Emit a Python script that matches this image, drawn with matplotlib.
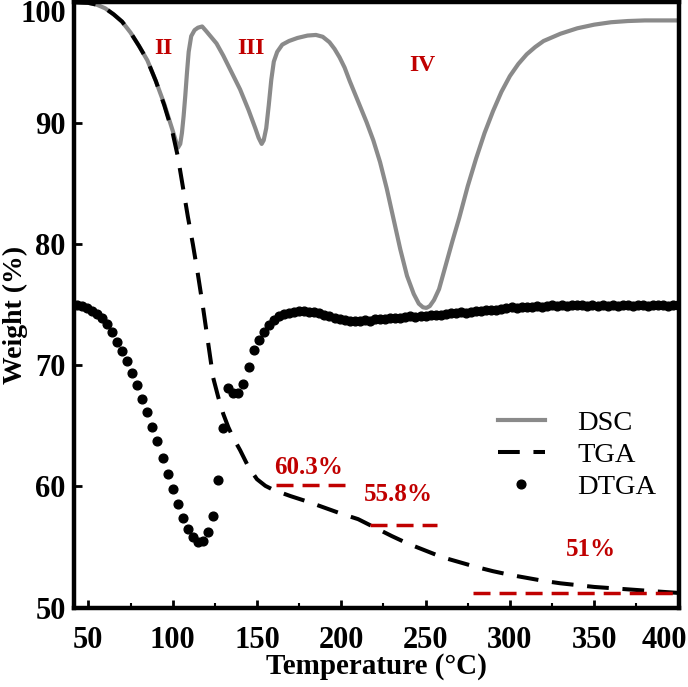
import matplotlib
matplotlib.use('Agg')
import matplotlib.pyplot as plt
import matplotlib.transforms as mtransforms

plt.rcParams['font.family'] = ['Liberation Serif', 'DejaVu Serif']

# DSC curve (gray line)
dsc_temp = [41.5, 50, 55, 60, 65, 70, 75, 80, 85, 90, 95, 100, 102, 103.2, 104.5, 105.5,
            106.5, 107.5, 108.5, 109.5, 111, 113, 115, 117.5, 120, 123, 126, 130, 135, 140,
            145, 149, 151, 152.8, 154, 155.5, 157, 158.5, 160, 162, 165, 169, 174, 180, 185,
            189, 193, 196, 199, 202, 205, 210, 215, 219, 223, 227, 231, 235, 239, 243, 246, 248.5,
            250.5, 252.5, 255, 258, 262, 266, 270, 275, 280, 285, 290, 295, 300, 305, 310,
            315, 320, 330, 340, 350, 360, 370, 380, 390, 400.6]
dsc_val = [100.0, 99.95, 99.8, 99.5, 99.0, 98.4, 97.5, 96.4, 95.2, 93.5, 91.6, 89.4, 88.5, 88.0, 88.3, 89.2,
           90.6, 92.3, 94.2, 95.9, 97.2, 97.7, 97.9, 98.0, 97.6, 97.1, 96.6, 95.6, 94.2, 92.8,
           91.1, 89.6, 88.8, 88.3, 88.6, 89.6, 91.5, 93.6, 95.1, 95.9, 96.5, 96.8, 97.05, 97.25, 97.3,
           97.15, 96.7, 96.15, 95.45, 94.6, 93.5, 91.8, 90.1, 88.6, 86.8, 84.6, 82.1, 79.6, 77.4, 75.9, 75.1, 74.8,
           74.75, 74.9, 75.4, 76.3, 78.3, 80.3, 82.2, 84.8, 87.1, 89.2, 91.0, 92.6, 93.9, 94.9, 95.7,
           96.3, 96.8, 97.4, 97.85, 98.15, 98.35, 98.45, 98.5, 98.5, 98.5]

# TGA curve (black dashed)
tga_temp = [41.5, 50, 55, 60, 65, 70, 75, 80, 85, 90, 95, 100, 103, 106, 109, 112, 115, 118,
            121, 124, 127, 130, 133, 136, 140, 145, 150, 155, 160, 165, 170, 180, 190, 200,
            210, 220, 230, 240, 250, 260, 270, 280, 290, 300, 310, 320, 330, 340, 350, 360,
            370, 380, 390, 400.6]
tga_val = [100.0, 99.95, 99.8, 99.5, 99.0, 98.4, 97.5, 96.4, 95.2, 93.5, 91.5, 89.2, 87.3, 84.8, 82.3, 80.0, 77.5, 74.8,
           71.9, 69.0, 67.4, 66.0, 64.9, 64.0, 63.0, 61.6, 60.6, 60.05, 59.7, 59.45, 59.2, 58.75, 58.25, 57.75,
           57.3, 56.6, 55.9, 55.25, 54.7, 54.15, 53.75, 53.35, 53.0, 52.7, 52.45, 52.2, 52.0, 51.85, 51.7, 51.6,
           51.5, 51.4, 51.3, 51.2]

# DTGA points (black dots)
dtga_temp = [43, 46, 49, 52, 55, 58, 61, 64, 67, 70, 73, 76, 79, 82, 85, 88, 91, 94, 97, 100,
             103, 106, 109, 112, 115, 118, 121, 124, 127, 130, 133, 136, 139, 142, 145, 148, 151, 154, 157, 160,
             163, 166, 169, 172, 175, 178, 181, 184, 187, 190, 193, 196, 199, 202, 205, 208, 211, 214, 217, 220,
             223, 226, 229, 232, 235, 238, 241, 244, 247, 250, 253, 256, 259, 262, 265, 268, 271, 274, 277, 280,
             283, 286, 289, 292, 295, 298, 301, 304, 307, 310, 313, 316, 319, 322, 325, 328, 331, 334, 337, 340,
             343, 346, 349, 352, 355, 358, 361, 364, 367, 370, 373, 376, 379, 382, 385, 388, 391, 394, 397, 400]
dtga_val = [75.0, 74.9, 74.75, 74.5, 74.25, 73.95, 73.45, 72.75, 71.95, 71.15, 70.35, 69.35, 68.35, 67.25, 66.15, 64.95, 63.75, 62.35, 61.05, 59.75,
            58.55, 57.4, 56.45, 55.85, 55.4, 55.5, 56.25, 57.6, 60.5, 64.8, 68.15, 67.7, 67.7, 68.5, 69.9, 71.25, 72.1, 72.8, 73.35, 73.75,
            74.05, 74.25, 74.35, 74.45, 74.5, 74.5, 74.45, 74.4, 74.3, 74.2, 74.05, 73.9, 73.8, 73.75, 73.7, 73.65, 73.7, 73.75, 73.7, 73.8,
            73.85, 73.8, 73.9, 73.95, 73.9, 74.0, 74.05, 74.0, 74.1, 74.1, 74.15, 74.2, 74.15, 74.25, 74.3, 74.3, 74.4, 74.35, 74.45, 74.5,
            74.5, 74.55, 74.6, 74.6, 74.7, 74.75, 74.8, 74.75, 74.85, 74.8, 74.85, 74.9, 74.85, 74.9, 74.95, 74.9, 74.95, 74.9, 74.95, 75.0,
            74.95, 74.9, 74.95, 74.9, 74.95, 74.9, 74.95, 74.9, 74.95, 74.95, 74.9, 74.95, 74.95, 74.9, 74.95, 74.95, 74.95, 74.9, 74.95, 74.95]

# residual mass markers (red dashed) and their labels
mass_levels = [60.1, 56.8, 51.2]
mass_start = [161.3, 217.1, 278.2]
mass_end = [202.2, 256.8, 400.6]
mass_labels = ['60.3%', '55.8%', '51%']
mass_label_x = [180.5, 233.9, 348.3]
mass_label_y = [61.55, 59.3, 54.8]

# stage labels
stage_labels = ['II', 'III', 'IV']
stage_x = [94.7, 146.5, 248.1]
stage_y = [96.2, 96.2, 94.8]

red = '#C00000'

fig = plt.figure(figsize=(6.88, 6.87), dpi=100)
ax = fig.add_axes([0.1076, 0.1157, 0.88, 0.881])

ax.plot(dsc_temp, dsc_val, color='#8a8a8a', lw=3.0, label='DSC', zorder=2)
ax.plot(tga_temp, tga_val, color='black', lw=2.9, dashes=(5.4, 3.4), label='TGA', zorder=3)
ax.plot(dtga_temp, dtga_val, 'o', color='black', ms=6.3, mec='black', label='DTGA', zorder=3)

for lev, x0, x1 in zip(mass_levels, mass_start, mass_end):
    ax.plot([x0, x1], [lev, lev], color=red, lw=2.5, dashes=(4.9, 2.6), zorder=4)
for txt, tx, ty in zip(mass_labels, mass_label_x, mass_label_y):
    ax.text(tx, ty, txt, color=red, fontsize=18, fontweight='bold', ha='center', va='center')
for txt, tx, ty in zip(stage_labels, stage_x, stage_y):
    ax.text(tx, ty, txt, color=red, fontsize=17, fontweight='bold', ha='center', va='center')

ax.set_xlim(41.5, 400.6)
ax.set_ylim(50, 100)
ax.set_xticks([50, 100, 150, 200, 250, 300, 350, 400])
ax.set_xticks([75, 125, 175, 225, 275, 325, 375], minor=True)
ax.set_yticks([50, 60, 70, 80, 90, 100])

ax.tick_params(axis='both', which='major', direction='in', length=6, width=2,
               labelsize=22, top=False, right=False)
ax.tick_params(axis='x', which='major', pad=13)
ax.tick_params(axis='y', which='major', pad=6)
ax.tick_params(axis='x', which='minor', direction='in', length=3.5, width=1.5, top=False)
for lab in ax.get_xticklabels() + ax.get_yticklabels():
    lab.set_fontweight('bold')
for s in ax.spines.values():
    s.set_linewidth(3.2)

# nudge the edge tick labels as in the original
xlabs = ax.get_xticklabels()
xlabs[-1].set_transform(xlabs[-1].get_transform() +
                        mtransforms.ScaledTranslation(-14 / 100, 0, fig.dpi_scale_trans))
ylabs = ax.get_yticklabels()
ylabs[-1].set_transform(ylabs[-1].get_transform() +
                        mtransforms.ScaledTranslation(0, -9 / 100, fig.dpi_scale_trans))

ax.set_xlabel('Temperature (\u00b0C)', fontsize=21, fontweight='bold')
ax.xaxis.set_label_coords(0.5, -0.075)
ax.set_ylabel('Weight (%)', fontsize=20, fontweight='bold')
ax.yaxis.set_label_coords(-0.076, 0.484)

ax.legend(loc='upper left', bbox_to_anchor=(0.70, 0.326), frameon=False, fontsize=20.5,
          handlelength=1.65, handletextpad=1.15, labelspacing=0.21, borderpad=0,
          borderaxespad=0, numpoints=1)

fig.savefig('out.png', dpi=100)
